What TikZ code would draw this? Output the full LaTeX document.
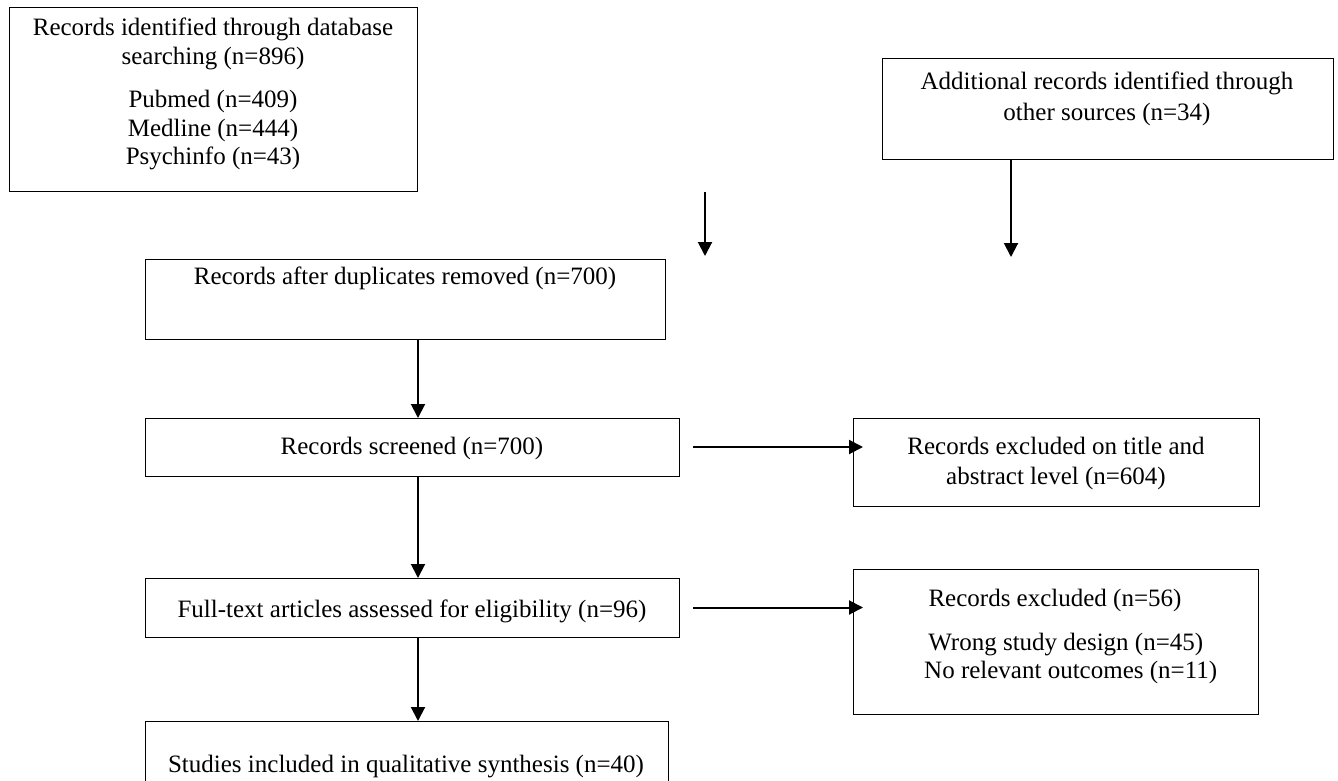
\documentclass[tikz,border=0pt]{standalone}
\usepackage{fontspec}
\setmainfont{Liberation Serif}
\usetikzlibrary{arrows.meta}
\begin{document}
\begin{tikzpicture}[x=1pt,y=-1pt,
  box/.style={draw, line width=1pt, inner sep=0pt, outer sep=0pt},
  txt/.style={font=\fontsize{25}{28.5}\selectfont, align=center, inner sep=0pt},
  arr/.style={line width=2pt, -{Triangle[length=14pt,width=14pt]}}]
\useasboundingbox (0,0) rectangle (1338,781);
\clip (0,0) rectangle (1338,781);
% boxes
\node[box, minimum width=408pt, minimum height=183pt] (b1) at (213,99.5) {};
\node[box, minimum width=451pt, minimum height=100pt] (b2) at (1107.5,109) {};
\node[box, minimum width=520pt, minimum height=80pt] (b3) at (405,299) {};
\node[box, minimum width=534pt, minimum height=58pt] (b4) at (412,447) {};
\node[box, minimum width=406pt, minimum height=88pt] (b5) at (1056,462) {};
\node[box, minimum width=534pt, minimum height=59pt] (b6) at (412,607.5) {};
\node[box, minimum width=405pt, minimum height=145pt] (b7) at (1055.5,641.5) {};
\node[box, minimum width=523pt, minimum height=69pt] (b8) at (406.5,755.5) {};
% texts
\node[txt] (t1a) at (213,44) {Records identified through database\\searching (n=896)};
\node[txt] (t1b) at (213,130.5) {Pubmed (n=409)\\Medline (n=444)\\Psychinfo (n=43)};
\node[txt, font=\fontsize{25}{31}\selectfont] (t2) at (1107,98.5) {Additional records identified through\\other sources (n=34)};
\node[txt] (t3) at (405,278) {Records after duplicates removed (n=700)};
\node[txt] (t4) at (412,448) {Records screened (n=700)};
\node[txt, font=\fontsize{25}{30}\selectfont] (t5) at (1056,463) {Records excluded on title and\\abstract level (n=604)};
\node[txt] (t6) at (412,611) {Full-text articles assessed for eligibility (n=96)};
\node[txt] (t7a) at (1055,600) {Records excluded (n=56)};
\node[txt, align=left, anchor=west, font=\fontsize{25}{28}\selectfont] (t7b) at (924,658) {\,Wrong study design (n=45)\\No relevant outcomes (n=11)};
\node[txt] (t8) at (406,767) {Studies included in qualitative synthesis (n=40)};
% connectors
\coordinate (col) at (418,0);
\coordinate (a1s) at (705,192);
\coordinate (a1e) at (705,256);
\coordinate (a2e) at (1011,257);
\draw[arr] (a1s) -- (a1e);
\draw[arr] (b2.south -| a2e) -- (a2e);
\draw[arr] (b3.south -| col) -- (b4.north -| col);
\draw[arr] (b4.south -| col) -- (b6.north -| col);
\draw[arr] (b6.south -| col) -- (b8.north -| col);
\coordinate (d1) at (b4.east -| b5.west);
\coordinate (d2) at (b6.east -| b7.west);
\draw[arr] ([xshift=14pt]b4.east) -- ([xshift=10pt]d1);
\draw[arr] ([xshift=14pt]b6.east) -- ([xshift=10pt]d2);
\end{tikzpicture}
\end{document}
